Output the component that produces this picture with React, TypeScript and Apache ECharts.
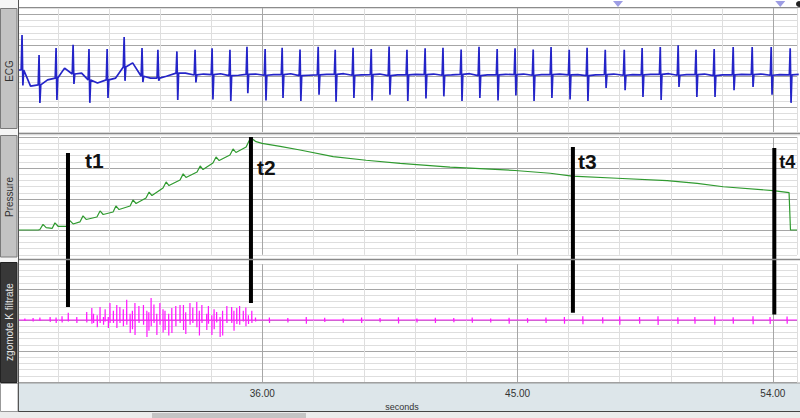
import React, { useEffect, useRef } from 'react';
import * as echarts from 'echarts';

// ---------- axis / ticks ----------
const X_MIN = 27;
const X_MAX = 54.85;
const X_STEP = 1.8;
const X_START = 27.42;
const xTickLabels = [36, 45, 54];
const xAxisName = 'seconds';
const channelNames = ['ECG', 'Pressure', 'zgomote K filtrate'];

// ---------- ECG (beat times, R peaks, S troughs, baseline) ----------
const ecgBeatT = [27.53, 28.13, 28.73, 29.33, 29.89, 30.53, 31.13, 31.76, 32.32, 32.99, 33.63, 34.23, 34.86, 35.46, 36.10, 36.70, 37.33, 37.97, 38.57, 39.20, 39.84, 40.47, 41.10, 41.74, 42.37, 43.01, 43.64, 44.28, 44.91, 45.55, 46.18, 46.82, 47.45, 48.09, 48.76, 49.39, 50.03, 50.66, 51.29, 51.93, 52.60, 53.27, 53.94, 54.61];
const ecgBeatUp = [1.33, 0.68, 0.91, 1.01, 0.88, 0.88, 1.26, 0.91, 0.85, 0.80, 0.85, 0.90, 0.85, 0.95, 0.88, 0.92, 0.86, 0.95, 0.85, 0.92, 0.88, 0.96, 0.85, 0.90, 0.92, 0.86, 0.95, 0.88, 0.90, 0.86, 0.94, 0.85, 0.92, 0.85, 0.85, 0.91, 0.94, 1.0, 0.85, 0.88, 0.94, 0.94, 0.94, 0.90];
const ecgBeatDown = [-0.3, -0.86, -0.77, -0.25, -0.86, -0.70, -0.15, -0.19, -0.15, -0.77, -0.2, -0.75, -0.8, -0.55, -0.78, -0.7, -0.8, -0.6, -0.82, -0.7, -0.78, -0.6, -0.8, -0.72, -0.65, -0.8, -0.7, -0.78, -0.62, -0.8, -0.7, -0.75, -0.8, -0.38, -0.45, -0.67, -0.77, -0.35, -0.67, -0.67, -0.45, -0.35, -0.6, -0.86];
const ecgBase = [0.2, -0.28, -0.06, 0.07, -0.12, -0.12, 0.3, 0.0, -0.06, 0.1, 0.04, 0.05, 0.02, 0.06, 0.03, 0.05, 0.02, 0.04, 0.06, 0.03, 0.05, 0.02, 0.04, 0.05, 0.03, 0.06, 0.02, 0.04, 0.05, 0.03, 0.05, 0.04, 0.02, 0.05, 0.03, 0.04, 0.06, 0.03, 0.05, 0.02, 0.04, 0.05, 0.03, 0.04];
const ecgMid = [-0.32, -0.12, 0.26, 0.1, -0.22, -0.06, 0.43, -0.06, 0.0, 0.1, 0.07, 0.08, 0.03, 0.07, 0.05, 0.08, 0.03, 0.06, 0.08, 0.04, 0.07, 0.04, 0.06, 0.07, 0.04, 0.08, 0.04, 0.06, 0.07, 0.05, 0.07, 0.05, 0.04, 0.07, 0.05, 0.06, 0.08, 0.05, 0.07, 0.04, 0.06, 0.07, 0.05, 0.06];

// ---------- Pressure (mmHg) ----------
const pressureT = [27.42, 28.10, 28.16, 28.27, 28.38, 28.59, 28.69, 28.80, 29.12, 29.22, 29.33, 29.57, 29.68, 29.79, 30.17, 30.28, 30.39, 30.74, 30.84, 30.95, 31.34, 31.44, 31.55, 31.90, 32.01, 32.11, 32.50, 32.61, 32.71, 33.10, 33.21, 33.31, 33.70, 33.81, 33.91, 34.26, 34.37, 34.48, 34.86, 34.97, 35.07, 35.43, 35.53, 35.60, 35.78, 35.99, 36.63, 37.33, 38.50, 39.66, 40.86, 42.62, 44.91, 46.15, 46.92, 48.51, 50.27, 51.33, 52.25, 54.01, 54.57, 54.62, 54.85];
const pressureV = [20.0, 20.0, 20.3, 23.6, 21.5, 21.0, 24.6, 22.4, 22.4, 26.0, 23.9, 25.2, 29.1, 26.8, 28.4, 32.3, 30.0, 31.6, 35.5, 33.2, 35.5, 39.4, 37.1, 40.6, 44.5, 42.2, 47.1, 51.0, 48.7, 52.3, 56.2, 53.9, 57.4, 61.3, 59.0, 63.2, 67.1, 64.8, 68.4, 72.3, 70.0, 73.5, 77.4, 79.4, 77.0, 75.9, 74.0, 71.6, 67.3, 65.0, 63.0, 60.6, 58.4, 56.6, 54.8, 53.4, 51.8, 50.1, 47.9, 45.4, 44.1, 20.0, 20.0];

// ---------- Filtered K-sound noise: before t1, t1..t2, after t2 ----------
const pinkPreT = [27.63, 27.92, 28.16, 28.52, 28.73, 28.94];
const pinkPreUp = [0.05, 0.06, 0.08, 0.1, 0.08, 0.12];
const pinkPreDown = [-0.03, -0.05, -0.03, -0.06, -0.1, -0.08];
const pinkMainT = [29.16, 29.46, 29.81, 29.99, 30.05, 30.18, 30.28, 30.40, 30.46, 30.57, 30.63, 30.75, 30.87, 30.98, 31.10, 31.22, 31.34, 31.42, 31.51, 31.65, 31.81, 31.93, 32.00, 32.08, 32.18, 32.28, 32.39, 32.50, 32.57, 32.70, 32.81, 32.95, 33.10, 33.22, 33.30, 33.45, 33.55, 33.69, 33.78, 33.87, 34.04, 34.10, 34.22, 34.30, 34.39, 34.51, 34.60, 34.75, 34.92, 35.00, 35.10, 35.20, 35.33, 35.42, 35.51, 35.63, 35.76];
const pinkMainUp = [0.23, 0.1, 0.26, 0.39, 0.2, 0.15, 0.42, 0.1, 0.35, 0.1, 0.55, 0.3, 0.48, 0.42, 0.35, 0.65, 0.2, 0.3, 0.55, 0.45, 0.48, 0.3, 0.25, 0.71, 0.5, 0.2, 0.55, 0.35, 0.3, 0.2, 0.39, 0.45, 0.48, 0.48, 0.25, 0.55, 0.4, 0.58, 0.3, 0.48, 0.2, 0.45, 0.15, 0.35, 0.26, 0.1, 0.3, 0.45, 0.42, 0.3, 0.39, 0.45, 0.3, 0.4, 0.15, 0.3, 0.08];
const pinkMainDown = [-0.05, -0.1, -0.08, -0.12, -0.1, -0.23, -0.1, -0.15, -0.05, -0.26, -0.1, -0.1, -0.26, -0.1, -0.2, -0.15, -0.42, -0.3, -0.48, -0.1, -0.15, -0.55, -0.35, -0.2, -0.1, -0.48, -0.15, -0.4, -0.32, -0.5, -0.42, -0.2, -0.1, -0.32, -0.45, -0.15, -0.1, -0.23, -0.5, -0.1, -0.32, -0.12, -0.48, -0.3, -0.08, -0.55, -0.5, -0.1, -0.1, -0.35, -0.13, -0.15, -0.05, -0.2, -0.13, -0.1, -0.05];
const pinkPostT = [36.25, 36.9, 37.55, 38.2, 38.85, 39.5, 40.15, 40.8, 41.45, 42.1, 42.75, 43.4, 44.05, 44.7, 45.35, 46.0, 46.65, 47.3, 48.0, 48.6, 49.3, 49.95, 50.65, 51.25, 51.95, 52.6, 53.3, 53.9, 54.5];
const pinkPostUp = [0.08, 0.06, 0.1, 0.07, 0.05, 0.08, 0.06, 0.09, 0.05, 0.07, 0.06, 0.08, 0.05, 0.07, 0.06, 0.08, 0.1, 0.12, 0.09, 0.11, 0.1, 0.12, 0.09, 0.1, 0.11, 0.09, 0.12, 0.1, 0.11];
const pinkPostDown = [-0.1, -0.08, -0.12, -0.06, -0.09, -0.1, -0.07, -0.11, -0.08, -0.1, -0.07, -0.09, -0.08, -0.12, -0.09, -0.1, -0.12, -0.14, -0.11, -0.15, -0.12, -0.16, -0.13, -0.12, -0.15, -0.12, -0.14, -0.13, -0.12];

// ---------- markers ----------
const markerNames = ['t1', 't2', 't3', 't4'];
const markerT = [29.15, 35.6, 46.95, 54.05];
const markerTopP = [69.7, 80, 73.5, 72.9];
const markerBottomK = [0.42, 0.55, 0.23, 0.18];
const commentT = [48.54, 54.26];

const labelDx = [17, 6, 5, 5];
const labelDy = [8, 30, 14, 14];

function buildEcg() {
  const pts: number[][] = [[X_START, ecgBase[0]]];
  ecgBeatT.forEach((t, i) => {
    pts.push([t - 0.03, ecgBase[i]]);
    pts.push([t, ecgBeatUp[i]]);
    pts.push([t + 0.03, ecgBeatDown[i]]);
    pts.push([t + 0.06, ecgBase[i]]);
    pts.push([t + 0.3, ecgMid[i]]);
  });
  return pts;
}
function buildPressure() {
  return pressureT.map((t, i) => [t, pressureV[i]]);
}
function buildPink() {
  const pts: number[][] = [[X_START, 0]];
  const add = (ts: number[], up: number[], down: number[]) =>
    ts.forEach((t, i) => {
      pts.push([t - 0.004, 0], [t, up[i]], [t + 0.004, down[i]], [t + 0.008, 0]);
    });
  add(pinkPreT, pinkPreUp, pinkPreDown);
  add(pinkMainT, pinkMainUp, pinkMainDown);
  add(pinkPostT, pinkPostUp, pinkPostDown);
  pts.push([X_MAX, 0]);
  return pts;
}

const MINOR = '#dedede';
const MAJOR = '#a6a6a6';
const FONT = '"Liberation Sans", Arial, sans-serif';

export default function App() {
  const ref = useRef<HTMLDivElement>(null);
  useEffect(() => {
    document.body.style.margin = '0';
    const chart = echarts.init(ref.current!, null, { renderer: 'svg' });
    const grids = [
      { left: 7, right: 3, top: 8, height: 124, outerBoundsMode: 'none' },
      { left: 7, right: 3, top: 137, height: 117.8, outerBoundsMode: 'none' },
      { left: 7, right: 3, top: 264.2, height: 117.8, outerBoundsMode: 'none' },
    ];
    const xAxes = [0, 1, 2].map((i) => ({
      type: 'value',
      gridIndex: i,
      min: X_MIN,
      max: X_MAX,
      interval: X_STEP,
      axisLine: { show: false },
      axisTick: { show: false },
      axisLabel: {
        show: i === 2,
        margin: 6,
        fontSize: 10,
        color: '#333',
        fontFamily: FONT,
        formatter: (v: number) => (xTickLabels.some((l) => Math.abs(l - v) < 1e-6) ? v.toFixed(2) : ''),
      },
      name: i === 2 ? xAxisName : '',
      nameLocation: 'middle',
      nameGap: 20,
      nameTextStyle: { fontSize: 9, color: '#333', fontFamily: FONT },
      splitLine: { show: true, lineStyle: { color: [MAJOR, MINOR, MINOR, MINOR, MINOR], width: 1 } },
    }));
    const yBase = {
      type: 'value',
      axisLine: { show: false },
      axisTick: { show: false },
      axisLabel: { show: false },
    };
    const yAxes = [
      { ...yBase, gridIndex: 0, min: -1.8, max: 2.2, interval: 0.2, splitLine: { lineStyle: { color: [MINOR, MINOR, MINOR, MINOR, MAJOR] } } },
      { ...yBase, gridIndex: 1, min: 4, max: 80, interval: 4, splitLine: { lineStyle: { color: [MINOR, MINOR, MINOR, MINOR, MAJOR] } } },
      { ...yBase, gridIndex: 2, min: -2, max: 1.8, interval: 0.2, splitLine: { lineStyle: { color: [MAJOR, MINOR, MINOR, MINOR, MINOR] } } },
    ];
    chart.setOption({
      animation: false,
      backgroundColor: '#fff',
      grid: grids,
      xAxis: xAxes,
      yAxis: yAxes,
      series: [
        { type: 'line', xAxisIndex: 0, yAxisIndex: 0, data: buildEcg(), symbol: 'none', lineStyle: { color: '#2424c8', width: 1.7 }, z: 3 },
        { type: 'line', xAxisIndex: 1, yAxisIndex: 1, data: buildPressure(), symbol: 'none', lineStyle: { color: '#2f9a2f', width: 1.2 }, z: 3 },
        { type: 'line', xAxisIndex: 2, yAxisIndex: 2, data: buildPink(), symbol: 'none', lineStyle: { color: '#ff18ff', width: 1.2 }, z: 3 },
      ],
    });

    const g: any[] = [];
    const Z = 100;
    // left label column
    g.push({ type: 'rect', shape: { x: 0, y: 0, width: 18, height: 418 }, style: { fill: '#f6f6f6' }, z: Z });
    g.push({ type: 'rect', shape: { x: 0.5, y: 8.5, width: 16.5, height: 120 }, style: { fill: '#c3c3c3', stroke: '#7a7a7a', lineWidth: 1 }, z: Z + 1 });
    g.push({ type: 'rect', shape: { x: 0.5, y: 135.5, width: 16.5, height: 121.5 }, style: { fill: '#c3c3c3', stroke: '#7a7a7a', lineWidth: 1 }, z: Z + 1 });
    g.push({ type: 'rect', shape: { x: 0.5, y: 262.5, width: 16.5, height: 120 }, style: { fill: '#383838', stroke: '#222', lineWidth: 1 }, z: Z + 1 });
    g.push({ type: 'text', x: 9, y: 71, rotation: Math.PI / 2, style: { text: channelNames[0], font: `10px ${FONT}`, fill: '#333', align: 'center', verticalAlign: 'middle' }, z: Z + 2 });
    g.push({ type: 'text', x: 9, y: 197, rotation: Math.PI / 2, style: { text: channelNames[1], font: `10px ${FONT}`, fill: '#333', align: 'center', verticalAlign: 'middle' }, z: Z + 2 });
    g.push({ type: 'text', x: 9, y: 322, rotation: Math.PI / 2, style: { text: channelNames[2], font: `10px ${FONT}`, fill: '#e6e6e6', align: 'center', verticalAlign: 'middle' }, z: Z + 2 });
    g.push({ type: 'line', shape: { x1: 18.5, y1: 0, x2: 18.5, y2: 412 }, style: { stroke: '#555', lineWidth: 1 }, z: Z + 2 });
    // top strip
    g.push({ type: 'rect', shape: { x: 19, y: 0, width: 781, height: 7.5 }, style: { fill: '#fff' }, z: Z });
    g.push({ type: 'line', shape: { x1: 19, y1: 7.5, x2: 800, y2: 7.5 }, style: { stroke: '#8c8c8c', lineWidth: 1 }, z: Z });
    // panel separators
    g.push({ type: 'rect', shape: { x: 19, y: 132, width: 781, height: 4 }, style: { fill: '#f2f2f2' }, z: Z });
    g.push({ type: 'line', shape: { x1: 19, y1: 133.5, x2: 800, y2: 133.5 }, style: { stroke: '#8a8a8a', lineWidth: 1.5 }, z: Z });
    g.push({ type: 'line', shape: { x1: 19, y1: 259.5, x2: 800, y2: 259.5 }, style: { stroke: '#8a8a8a', lineWidth: 1.5 }, z: Z });
    // axis band
    g.push({ type: 'rect', shape: { x: 19, y: 383, width: 781, height: 28.5 }, style: { fill: '#dde6ea' }, z: 0 });
    g.push({ type: 'line', shape: { x1: 19, y1: 383, x2: 800, y2: 383 }, style: { stroke: '#9a9a9a', lineWidth: 1 }, z: Z });
    g.push({ type: 'line', shape: { x1: 19, y1: 411.5, x2: 800, y2: 411.5 }, style: { stroke: '#444', lineWidth: 1.2 }, z: Z });
    g.push({ type: 'rect', shape: { x: 0, y: 412, width: 800, height: 6 }, style: { fill: '#ececec' }, z: Z });
    g.push({ type: 'rect', shape: { x: 152, y: 413, width: 154, height: 5 }, style: { fill: '#c4c4c4' }, z: Z + 1 });
    g.push({ type: 'rect', shape: { x: 0.5, y: 383.5, width: 17.5, height: 28 }, style: { fill: '#fff', stroke: '#999', lineWidth: 1 }, z: Z + 1 });

    markerT.forEach((t, i) => {
      const top = chart.convertToPixel({ xAxisIndex: 1, yAxisIndex: 1 }, [t, markerTopP[i]]) as number[];
      const bot = chart.convertToPixel({ xAxisIndex: 2, yAxisIndex: 2 }, [t, markerBottomK[i]]) as number[];
      g.push({ type: 'line', shape: { x1: top[0], y1: top[1], x2: top[0], y2: bot[1] }, style: { stroke: '#000', lineWidth: 4 }, z: 60 });
      g.push({ type: 'text', x: top[0] + labelDx[i], y: top[1] + labelDy[i], style: { text: markerNames[i], font: `bold ${i === 3 ? 18 : 21}px ${FONT}`, fill: '#111', verticalAlign: 'middle' }, z: 60 });
    });
    commentT.forEach((t) => {
      const p = chart.convertToPixel({ xAxisIndex: 0, yAxisIndex: 0 }, [t, 0]) as number[];
      g.push({ type: 'polygon', shape: { points: [[p[0] - 5, 1], [p[0] + 5, 1], [p[0], 7]] }, style: { fill: '#9d9de4' }, z: Z + 3 });
    });
    g.push({ type: 'circle', shape: { cx: 799, cy: 4, r: 3 }, style: { fill: '#222' }, z: Z + 3 });

    chart.setOption({ graphic: g });
    return () => chart.dispose();
  }, []);
  return <div ref={ref} style={{ position: 'fixed', left: 0, top: 0, width: 800, height: 418 }} />;
}
